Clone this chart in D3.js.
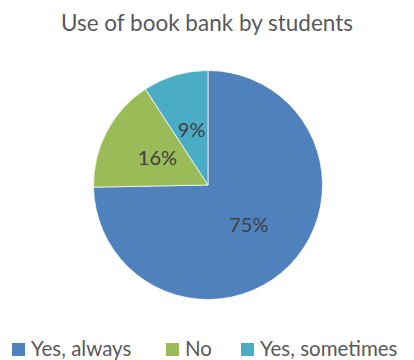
<!DOCTYPE html>
<html>
<head>
<meta charset="utf-8">
<style>
  body{ margin:0; background:#fff; }
  text{ font-family: Lato, "Open Sans", sans-serif; }
</style>
<script src="https://d3js.org/d3.v7.min.js"></script>
</head>
<body>
<script>
var categories = ["Yes, always", "No", "Yes, sometimes"];
var values = [74.7, 16.1, 9.2];
var labels = ["75%", "16%", "9%"];
var colors = ["#4F81BD", "#9BBB59", "#4BACC6"];

var width = 414, height = 360;
var cx = 208, cy = 185, radius = 114.5;

var svg = d3.select("body").append("svg")
  .attr("width", width)
  .attr("height", height);

svg.append("text")
  .attr("x", 207)
  .attr("y", 31)
  .attr("text-anchor", "middle")
  .attr("font-size", 22.5)
  .attr("fill", "#595959")
  .text("Use of book bank by students");

var pie = d3.pie().sort(null).value(function(d){ return d; });
var arc = d3.arc().innerRadius(0).outerRadius(radius);
var arcs = pie(values);

var g = svg.append("g").attr("transform", "translate(" + cx + "," + cy + ")");

g.selectAll("path")
  .data(arcs)
  .enter().append("path")
  .attr("d", arc)
  .attr("fill", function(d, i){ return colors[i]; })
  .attr("stroke", "#fff")
  .attr("stroke-width", 0.7);

g.selectAll("text.lbl")
  .data(arcs)
  .enter().append("text")
  .attr("class", "lbl")
  .attr("transform", function(d){ return "translate(" + arc.centroid(d) + ")"; })
  .attr("text-anchor", "middle")
  .attr("dy", "0.35em")
  .attr("font-size", 20)
  .attr("fill", "#404040")
  .text(function(d, i){ return labels[i]; });

// legend
var legendX = [12, 166, 241];
var legend = svg.append("g");
var items = legend.selectAll("g")
  .data(categories)
  .enter().append("g")
  .attr("transform", function(d, i){ return "translate(" + legendX[i] + ",343)"; });
items.append("rect")
  .attr("width", 13).attr("height", 13)
  .attr("fill", function(d, i){ return colors[i]; });
items.append("text")
  .attr("x", 19)
  .attr("y", 12.5)
  .attr("font-size", 20.5)
  .attr("fill", "#595959")
  .text(function(d){ return d; });
</script>
</body>
</html>
